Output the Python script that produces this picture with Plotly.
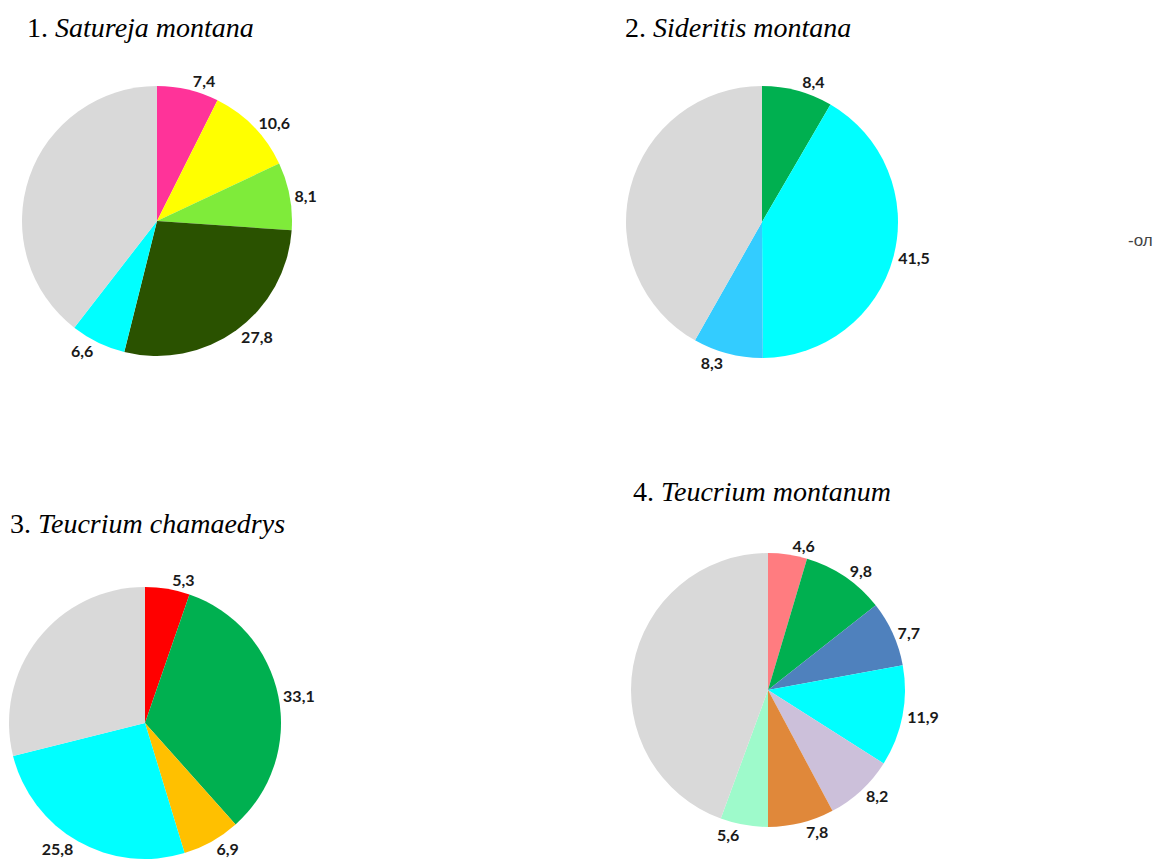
import plotly.graph_objects as go

W, H = 1162, 867

# Component shares (%) per species; the grey remainder is the unlabelled rest
titles_num = ["1.", "2.", "3.", "4."]
titles_sp = ["Satureja montana", "Sideritis montana", "Teucrium chamaedrys", "Teucrium montanum"]

vals_1 = [7.4, 10.6, 8.1, 27.8, 6.6]
vals_2 = [8.4, 41.5, 8.3]
vals_3 = [5.3, 33.1, 6.9, 25.8]
vals_4 = [4.6, 9.8, 7.7, 11.9, 8.2, 7.8, 5.6]

cols_1 = ["#FF3399", "#FFFF00", "#7FEB3A", "#2A5200", "#00FFFF"]
cols_2 = ["#00B050", "#00FFFF", "#33CCFF"]
cols_3 = ["#FF0000", "#00B050", "#FFC000", "#00FFFF"]
cols_4 = ["#FF7C80", "#00B050", "#4F81BD", "#00FFFF", "#CCC0DA", "#E0883A", "#9EFACB"]
REST = "#D9D9D9"

# pie centre (px) and radius (px) on the page
geom = [(157, 221, 135), (762, 222, 136), (145, 723, 136), (768, 690, 137)]
# title anchor (left x, centre y) in px
title_pos = [(25, 27), (623, 27), (8, 523), (631, 491)]

fig = go.Figure()
for vals, cols, (cx, cy, r) in zip([vals_1, vals_2, vals_3, vals_4],
                                   [cols_1, cols_2, cols_3, cols_4], geom):
    rest = round(100 - sum(vals), 1)
    values = vals + [rest]
    text = [f"{v:.1f}".replace(".", ",") for v in vals] + [""]
    fig.add_trace(go.Pie(
        values=values,
        text=text,
        textinfo="text",
        textposition="outside",
        marker=dict(colors=cols + [REST], line=dict(width=0)),
        sort=False,
        direction="clockwise",
        rotation=0,
        hole=0,
        showlegend=False,
        outsidetextfont=dict(family="Lato", size=16, color="#1a1a1a", weight="bold"),
        domain=dict(x=[(cx - r) / W, (cx + r) / W],
                    y=[1 - (cy + r) / H, 1 - (cy - r) / H]),
    ))

for num, sp, (tx, ty) in zip(titles_num, titles_sp, title_pos):
    fig.add_annotation(
        x=tx / W, y=1 - ty / H, xref="paper", yref="paper",
        xanchor="left", yanchor="middle", showarrow=False,
        text=f"{num} <i>{sp}</i>",
        font=dict(family="Liberation Serif, Times New Roman, serif", size=28, color="#000000"),
    )

fig.add_annotation(
    x=1126 / W, y=1 - 240 / H, xref="paper", yref="paper",
    xanchor="left", yanchor="middle", showarrow=False,
    text="-ол", font=dict(family="Liberation Sans", size=17, color="#444444"),
)

fig.update_layout(
    width=W, height=H,
    margin=dict(l=0, r=0, t=0, b=0),
    paper_bgcolor="white", plot_bgcolor="white",
)

fig.write_html("out.html")
